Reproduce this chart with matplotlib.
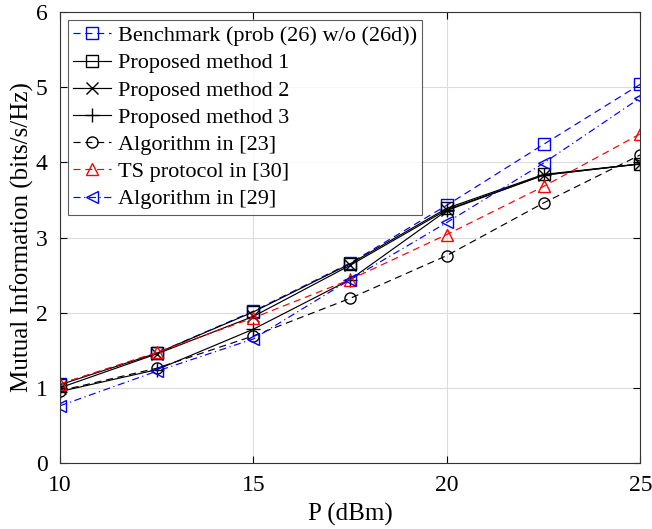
import matplotlib
matplotlib.use("Agg")
import matplotlib.pyplot as plt

plt.rcParams['font.family'] = ['Liberation Serif', 'DejaVu Serif']
plt.rcParams['mathtext.fontset'] = 'stix'

# transmit power (dBm)
P = [10, 12.5, 15, 17.5, 20, 22.5, 25]

benchmark = [1.05, 1.46, 2.02, 2.66, 3.43, 4.24, 5.04]
proposed1 = [1.04, 1.46, 2.01, 2.65, 3.39, 3.84, 3.98]
proposed2 = [1.00, 1.45, 1.95, 2.63, 3.37, 3.83, 3.98]
proposed3 = [0.95, 1.24, 1.78, 2.44, 3.36, 3.83, 3.98]
alg23 = [0.96, 1.26, 1.69, 2.19, 2.76, 3.46, 4.10]
ts30 = [1.05, 1.47, 1.93, 2.44, 3.04, 3.68, 4.38]
alg29 = [0.76, 1.22, 1.65, 2.44, 3.20, 3.99, 4.86]

fig, ax = plt.subplots(figsize=(6.52, 5.29), dpi=100)
fig.subplots_adjust(left=0.092, right=0.982, top=0.977, bottom=0.125)

ms = 8
lw = 0.85
dash = (6, 4)
dashdot = (6, 3, 1, 3)
ax.plot(P, benchmark, 's', ls='--', dashes=dash, color='blue', mfc='none', ms=ms, lw=lw,
        label='Benchmark (prob (26) w/o (26d))')
ax.plot(P, proposed1, '-s', color='black', mfc='none', ms=ms, lw=lw, label='Proposed method 1')
ax.plot(P, proposed2, '-x', color='black', ms=ms, lw=lw, label='Proposed method 2')
ax.plot(P, proposed3, '-+', color='black', ms=ms + 2, lw=lw, label='Proposed method 3')
ax.plot(P, alg23, 'o', ls='--', dashes=dash, color='black', mfc='none', ms=ms, lw=lw,
        label='Algorithm in [23]')
ax.plot(P, ts30, '^', ls='--', dashes=dash, color='red', mfc='none', ms=ms + 1, lw=lw,
        label='TS protocol in [30]')
ax.plot(P, alg29, '<', ls='-.', dashes=dashdot, color='blue', mfc='none', ms=ms + 1, lw=lw,
        label='Algorithm in [29]')

ax.set_xlim(10, 25)
ax.set_ylim(0, 6)
ax.set_xticks([10, 15, 20, 25])
ax.set_yticks(range(0, 7))
ax.grid(True, color='#dcdcdc', lw=0.8)
ax.tick_params(direction='in', top=True, right=True, labelsize=17, length=5)
ax.tick_params(axis='x', pad=9)
ax.tick_params(axis='y', pad=9)
for s in ax.spines.values():
    s.set_color('#333333')
    s.set_linewidth(0.8)

ax.set_xlabel('P (dBm)', fontsize=18, labelpad=5)
ax.set_ylabel('Mutual Information (bits/s/Hz)', fontsize=18, labelpad=1)

leg = ax.legend(loc='upper left', fontsize=16, frameon=True, fancybox=False,
                edgecolor='#333333', borderaxespad=0.35, handlelength=1.7,
                handletextpad=0.3, labelspacing=0.3, borderpad=0.25)
leg.get_frame().set_linewidth(0.8)

fig.savefig('out.png', dpi=100)
